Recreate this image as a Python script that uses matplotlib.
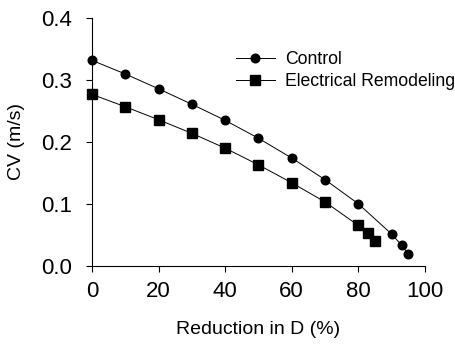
import numpy as np
import matplotlib
matplotlib.use('Agg')
from matplotlib import pyplot as plt

plt.rcParams['font.family'] = ['Liberation Sans', 'DejaVu Sans']

ctrl_x = [0, 10, 20, 30, 40, 50, 60, 70, 80, 90, 93, 95]
ctrl_cv = [0.332, 0.310, 0.286, 0.261, 0.235, 0.206, 0.174, 0.139, 0.100, 0.051, 0.033, 0.019]

er_x = [0, 10, 20, 30, 40, 50, 60, 70, 80, 83, 85]
er_cv = [0.277, 0.257, 0.236, 0.214, 0.190, 0.163, 0.134, 0.103, 0.065, 0.052, 0.040]

fig = plt.figure(figsize=(4.55, 3.45), dpi=100)
ax = fig.add_axes([0.202, 0.230, 0.732, 0.717])

ax.plot(ctrl_x, ctrl_cv, color='black', lw=0.7, marker='o', ms=6.2,
        label='Control', clip_on=False)
ax.plot(er_x, er_cv, color='black', lw=0.7, marker='s', ms=6.5,
        label='Electrical Remodeling', clip_on=False)

ax.set_xlim(0, 100)
ax.set_ylim(0, 0.4)
ax.set_xticks([0, 20, 40, 60, 80, 100])
ax.set_yticks([0.0, 0.1, 0.2, 0.3, 0.4])
ax.set_yticklabels(['0.0', '0.1', '0.2', '0.3', '0.4'])
ax.spines['top'].set_visible(False)
ax.spines['right'].set_visible(False)
ax.tick_params(direction='out', length=4, width=0.8, labelsize=16)
ax.tick_params(axis='y', pad=10)
ax.tick_params(axis='x', pad=7)

ax.set_xlabel('Reduction in D (%)', fontsize=14, labelpad=14)
ax.set_ylabel('CV (m/s)', fontsize=14, labelpad=12)

ax.legend(loc='upper left', bbox_to_anchor=(0.385, 0.93), frameon=False,
          fontsize=12.7, handlelength=2.2, labelspacing=0.25, handletextpad=0.6)

fig.savefig('out.png', dpi=100)
